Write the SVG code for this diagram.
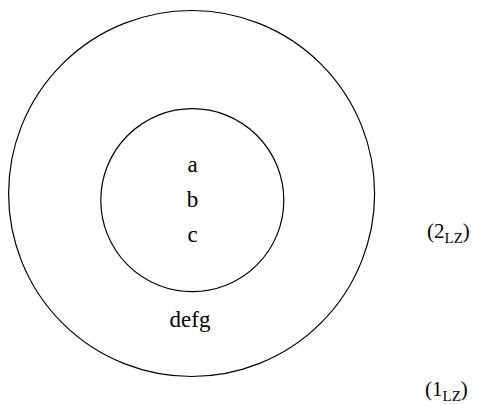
<svg xmlns="http://www.w3.org/2000/svg" width="477" height="405" viewBox="0 0 477 405">
<style>
.ring{fill:none;stroke:#000;stroke-width:1.2}
.lbl{font-size:23px;text-anchor:middle;fill:#000}
.tag{font-size:21px;fill:#000}
.sub{font-size:15px}
</style>
<rect width="477" height="405" fill="#fff"/>
<g id="outer">
<circle class="ring" cx="191.6" cy="193.5" r="183"/>
<text class="lbl" x="190" y="327" font-family="'Liberation Serif', 'Times New Roman', serif">defg</text>
</g>
<g id="inner">
<circle class="ring" cx="192.3" cy="200.2" r="91.5"/>
<text class="lbl" x="192.5" y="172" font-family="'Liberation Serif', 'Times New Roman', serif">a</text>
<text class="lbl" x="192.5" y="207" font-family="'Liberation Serif', 'Times New Roman', serif">b</text>
<text class="lbl" x="192.5" y="242" font-family="'Liberation Serif', 'Times New Roman', serif">c</text>
</g>
<g id="label2">
<text class="tag" x="427" y="238" font-family="'Liberation Serif', 'Times New Roman', serif">(2<tspan class="sub" dy="5">LZ</tspan><tspan dy="-5">)</tspan></text>
</g>
<g id="label1">
<text class="tag" x="425" y="396" font-family="'Liberation Serif', 'Times New Roman', serif">(1<tspan class="sub" dy="5">LZ</tspan><tspan dy="-5">)</tspan></text>
</g>
<g id="connectors"/>
</svg>
